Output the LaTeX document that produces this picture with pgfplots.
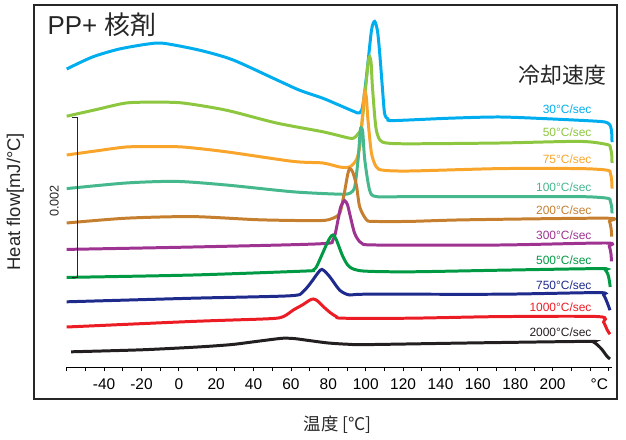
\documentclass[border=0pt]{standalone}
\usepackage{fontspec}
\setmainfont{Liberation Sans}
\newfontfamily\cjk{Noto Sans CJK JP}
\usepackage{pgfplots}
\pgfplotsset{compat=1.18}
\definecolor{c30}{HTML}{00AEEF}
\definecolor{c50}{HTML}{8DC63F}
\definecolor{c75}{HTML}{F9A52B}
\definecolor{c100}{HTML}{45B88D}
\definecolor{c200}{HTML}{C57F2F}
\definecolor{c300}{HTML}{9E3391}
\definecolor{c500}{HTML}{009A44}
\definecolor{c750}{HTML}{1E2A8C}
\definecolor{c1000}{HTML}{EC1C24}
\definecolor{c2000}{HTML}{231F20}
\begin{document}
\begin{tikzpicture}
\begin{axis}[
  scale only axis, width=545.7bp, height=362bp,
  xmin=-60, xmax=232, ymin=0, ymax=4.525,
  axis x line*=bottom, axis y line=none,
  x axis line style={-, line width=0.9pt},
  xtick={-40,-20,...,200},
  xticklabels={-40,-20,0,20,40,60,80,100,120,140,160,180,200},
  minor xtick={-60,-50,...,230},
  extra x ticks={225}, extra x tick labels={°C},
  extra x tick style={major tick style={draw=none}},
  tick align=outside, major tick length=4bp, minor tick length=4bp,
  tick style={black, line width=0.8pt},
  xticklabel style={font=\fontsize{15.5}{16}\selectfont, yshift=-4bp},
  clip=false,
  every axis plot/.append style={line width=3pt, smooth, tension=0.45},
]
\addplot[c30] coordinates {(-60,3.725) (-46.2,3.875) (-31.8,3.975) (-15.7,4.04) (-7.7,4.045) (11.1,3.96) (28.8,3.84) (52.3,3.59) (64.6,3.46) (77.0,3.36) (86.1,3.27) (94.1,3.19) (96.5,3.175) (98.3,3.25) (100.5,3.65) (103.1,4.21) (104.8,4.32) (106.3,4.20) (107.5,3.92) (108.9,3.50) (110.1,3.17) (111.9,3.10) (114.6,3.08) (145,3.11) (171.8,3.125) (200,3.10) (225,3.07) (229.5,3.05) (231,3.01) (231.6,2.93) (231.8,2.81)};
\addplot[c50] coordinates {(-60,3.135) (-44.5,3.216) (-28.2,3.30) (-13,3.31) (2.1,3.30) (25.4,3.21) (52.2,3.05) (77.1,2.94) (91.4,2.86) (94.1,2.87) (95.7,2.91) (97.7,3.00) (100,3.50) (101.3,3.81) (102.1,3.88) (102.9,3.80) (103.6,3.50) (105.4,3.00) (107.5,2.84) (111.1,2.80) (123.6,2.79) (171.8,2.80) (214.6,2.82) (229.3,2.78) (230.9,2.74) (231.6,2.66) (231.8,2.55)};
\addplot[c75] coordinates {(-60,2.65) (-44.6,2.70) (-28.2,2.75) (-13,2.755) (2.1,2.75) (25.4,2.69) (61.1,2.57) (77.1,2.55) (86.1,2.50) (91.4,2.50) (95.0,2.59) (96.8,2.75) (98.1,3.09) (99.3,3.43) (100.3,3.38) (101.2,3.09) (103.1,2.67) (105.7,2.50) (109.3,2.46) (123.6,2.45) (171.8,2.48) (214.6,2.48) (229.3,2.46) (230.9,2.42) (231.6,2.34) (231.8,2.23)};
\addplot[c100] coordinates {(-60,2.23) (-28.2,2.30) (-1.4,2.32) (25.4,2.275) (61.1,2.19) (86.1,2.16) (91.4,2.17) (94.1,2.25) (95.9,2.59) (97.1,2.96) (97.7,2.98) (98.4,2.94) (99.5,2.59) (102.1,2.21) (105.7,2.13) (123.6,2.13) (171.8,2.13) (214.6,2.13) (229.3,2.11) (230.9,2.07) (231.6,2.00) (231.8,1.92)};
\addplot[c200] coordinates {(-60,1.80) (-28.2,1.86) (7.5,1.88) (43.2,1.84) (75.4,1.83) (82.5,1.86) (86.1,1.92) (87.8,2.09) (88.7,2.19) (90.3,2.40) (91.4,2.48) (93.0,2.44) (95.0,2.275) (96.8,2.00) (100.4,1.84) (103.9,1.82) (123.6,1.82) (153.9,1.84) (228.5,1.86) (230.4,1.82) (231.3,1.73) (231.6,1.63)};
\addplot[c300] coordinates {(-60,1.47) (7.5,1.50) (75.4,1.54) (82.5,1.59) (85.2,1.84) (86.6,2.00) (88.7,2.08) (90.3,2.025) (91.4,1.92) (94.1,1.67) (97.7,1.55) (105.7,1.525) (171.8,1.525) (228.5,1.55) (230.3,1.51) (231.2,1.42) (231.5,1.32)};
\addplot[c500] coordinates {(-60,1.12) (7.5,1.15) (68.2,1.20) (71.8,1.21) (73.6,1.25) (75.4,1.34) (78.9,1.525) (81.0,1.62) (82.5,1.65) (84.3,1.59) (87.8,1.38) (91.4,1.25) (98.6,1.20) (123.6,1.19) (171.8,1.21) (225.3,1.23) (228.3,1.21) (229.7,1.15) (230.5,1.06) (230.8,1.00)};
\addplot[c750] coordinates {(-60,0.815) (7.5,0.86) (59.3,0.89) (66.4,0.94) (71.8,1.09) (73.6,1.15) (76.6,1.22) (80.7,1.13) (86.1,0.96) (91.4,0.90) (100.4,0.91) (171.8,0.91) (224.5,0.93) (227.3,0.90) (229.3,0.80) (230.7,0.71)};
\addplot[c1000] coordinates {(-60,0.50) (7.5,0.57) (45,0.60) (53.9,0.615) (57.5,0.65) (61.1,0.71) (66.4,0.78) (70,0.835) (72,0.85) (74,0.83) (77.1,0.76) (81,0.68) (84.3,0.63) (87.8,0.61) (123.6,0.61) (171.8,0.63) (224.5,0.63) (227.3,0.56) (229.3,0.46) (230.7,0.41)};
\addplot[c2000] coordinates {(-57.6,0.19) (-20,0.215) (10,0.25) (28,0.28) (40,0.315) (50,0.345) (56,0.36) (62,0.355) (70,0.33) (80,0.30) (90,0.285) (100.4,0.28) (153.9,0.30) (217,0.32) (222,0.31) (226,0.23) (228.9,0.14) (230.7,0.10)};
% rate labels
\begin{scope}[every node/.style={anchor=east, font=\fontsize{12}{13}\selectfont, inner sep=0pt}]
\node[text=c30] at (axis cs:220.9,3.225) {30°C/sec};
\node[text=c50] at (axis cs:220.9,2.94) {50°C/sec};
\node[text=c75] at (axis cs:220.9,2.60) {75°C/sec};
\node[text=c100] at (axis cs:220.9,2.25) {100°C/sec};
\node[text=c200] at (axis cs:220.9,1.96) {200°C/sec};
\node[text=c300] at (axis cs:220.9,1.65) {300°C/sec};
\node[text=c500] at (axis cs:220.9,1.33) {500°C/sec};
\node[text=c750] at (axis cs:220.9,1.025) {750°C/sec};
\node[text=c1000] at (axis cs:220.9,0.745) {1000°C/sec};
\node[text=c2000] at (axis cs:220.9,0.44) {2000°C/sec};
\end{scope}
\node[anchor=west, inner sep=0pt, font=\fontsize{26}{28}\selectfont, text=black!85] at (axis cs:-70.3,4.275) {PP+ {\cjk 核剤}};
\node[anchor=east, inner sep=0pt, font=\cjk\fontsize{22}{24}\selectfont, text=black!85] at (axis cs:228.9,3.65) {冷却速度};
\node[inner sep=0pt, font=\cjk\fontsize{17.5}{19}\selectfont, text=black!85] at (axis cs:85,-0.725) {温度 [°C]};
\node[rotate=90, inner sep=0pt, font=\fontsize{18.5}{20}\selectfont, text=black!85] at (axis cs:-87.5,2.066) {Heat flow[mJ/°C]};
\node[rotate=90, inner sep=0pt, font=\fontsize{12.7}{14}\selectfont, text=black!85] at (axis cs:-66.6,2.075) {0.002};
\draw[line width=1.1pt, black!85] (axis cs:-57.2,3.12) -- (axis cs:-54.1,3.12) -- (axis cs:-54.1,1.12) -- (axis cs:-57.2,1.12);
\draw[line width=1.4pt, black!85] (rel axis cs:-0.0599,-0.0884) rectangle (rel axis cs:1.0084,1);
\path (rel axis cs:-0.1222,-0.1989) rectangle (rel axis cs:1.0249,1.0138);
\end{axis}
\end{tikzpicture}
\end{document}
